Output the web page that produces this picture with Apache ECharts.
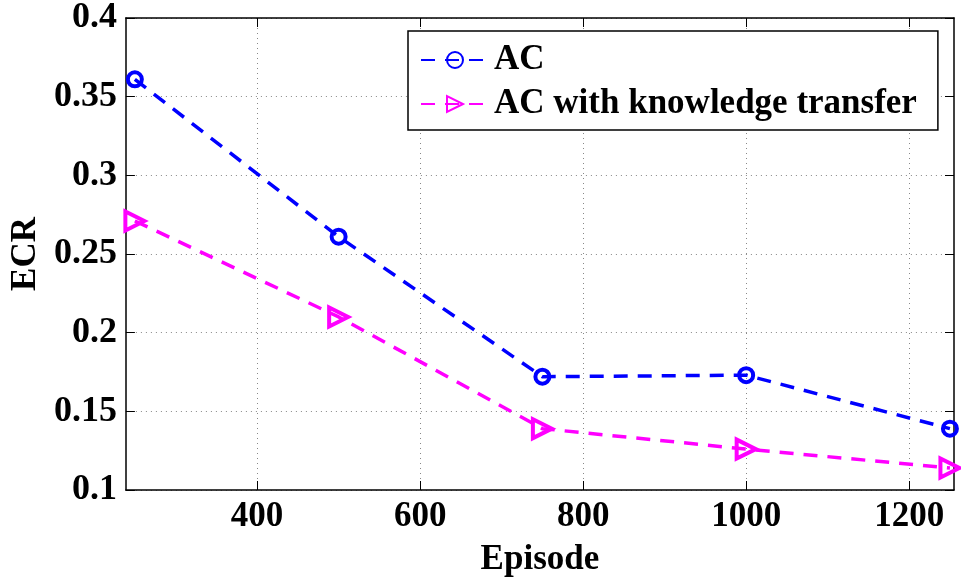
<!DOCTYPE html>
<html>
<head>
<meta charset="utf-8">
<script src="https://cdn.jsdelivr.net/npm/echarts@6/dist/echarts.min.js"></script>
<style>html,body{margin:0;padding:0;background:#fff}#c{width:961px;height:582px}</style>
</head>
<body>
<div id="c"></div>
<script>
const episodes = [250, 500, 750, 1000, 1250];
const acValues = [0.361, 0.261, 0.172, 0.173, 0.139];
const acKtValues = [0.271, 0.210, 0.139, 0.126, 0.114];
const xTicks = [400, 600, 800, 1000, 1200];
const seriesNames = ['AC', 'AC with knowledge transfer'];

const font = '"Liberation Serif", "Times New Roman", serif';
const chart = echarts.init(document.getElementById('c'), null, {renderer: 'canvas'});
const zip = (xs, ys) => xs.map((x, i) => [x, ys[i]]);

const xBase = {
  type: 'value', min: 239, max: 1255,
  axisLine: {show: true, onZero: false, lineStyle: {color: '#000', width: 1.5}},
};
const yBase = {
  type: 'value', min: 0.1, max: 0.4, interval: 0.05,
  axisLine: {show: true, onZero: false, lineStyle: {color: '#000', width: 1.5}},
};

chart.setOption({
  animation: false,
  backgroundColor: '#fff',
  grid: {left: 121, right: 7, top: 17, bottom: 91},
  legend: {
    orient: 'vertical', left: 408, top: 31,
    padding: [9, 21, 6, 12],
    itemWidth: 68, itemHeight: 20, itemGap: 4,
    borderColor: '#000', borderWidth: 1.5, backgroundColor: '#fff',
    textStyle: {fontFamily: font, fontWeight: 'bold', fontSize: 35, color: '#000', lineHeight: 40},
    data: seriesNames
  },
  xAxis: [
    Object.assign({}, xBase, {
      position: 'bottom',
      name: 'Episode', nameLocation: 'middle', nameGap: 52,
      nameTextStyle: {fontFamily: font, fontWeight: 'bold', fontSize: 35, color: '#000'},
      axisTick: {show: true, inside: true, length: 9, customValues: xTicks, lineStyle: {color: '#000', width: 1}},
      axisLabel: {customValues: xTicks, formatter: v => String(v), margin: 9, fontFamily: font, fontWeight: 'bold', fontSize: 35, color: '#000'},
      splitLine: {show: true, lineStyle: {color: '#888', type: [1, 4], width: 1}}
    }),
    Object.assign({}, xBase, {
      position: 'top',
      axisTick: {show: true, inside: true, length: 9, customValues: xTicks, lineStyle: {color: '#000', width: 1}},
      axisLabel: {show: false},
      splitLine: {show: false}
    })
  ],
  yAxis: [
    Object.assign({}, yBase, {
      position: 'left',
      name: 'ECR', nameLocation: 'middle', nameGap: 74,
      nameTextStyle: {fontFamily: font, fontWeight: 'bold', fontSize: 35, color: '#000'},
      axisTick: {show: true, inside: true, length: 9, lineStyle: {color: '#000', width: 1}},
      axisLabel: {margin: 9, fontFamily: font, fontWeight: 'bold', fontSize: 36, color: '#000'},
      splitLine: {show: true, lineStyle: {color: '#888', type: [1, 4], width: 1}}
    }),
    Object.assign({}, yBase, {
      position: 'right',
      axisTick: {show: true, inside: true, length: 9, lineStyle: {color: '#000', width: 1}},
      axisLabel: {show: false},
      splitLine: {show: false}
    })
  ],
  series: [
    {
      name: seriesNames[0], type: 'line', xAxisIndex: 0, yAxisIndex: 0,
      data: zip(episodes, acValues),
      symbol: 'circle', symbolSize: 14,
      lineStyle: {color: '#0000ff', width: 3.5, type: [14, 10]},
      itemStyle: {color: 'rgba(255,255,255,0)', borderColor: '#0000ff', borderWidth: 4},
      z: 3
    },
    {
      name: seriesNames[1], type: 'line', xAxisIndex: 0, yAxisIndex: 0,
      data: zip(episodes, acKtValues),
      symbol: 'triangle', symbolRotate: -90, symbolSize: 19,
      lineStyle: {color: '#ff00ff', width: 3.5, type: [14, 10]},
      itemStyle: {color: 'rgba(255,255,255,0)', borderColor: '#ff00ff', borderWidth: 4},
      z: 2
    }
  ]
});
</script>
</body>
</html>
